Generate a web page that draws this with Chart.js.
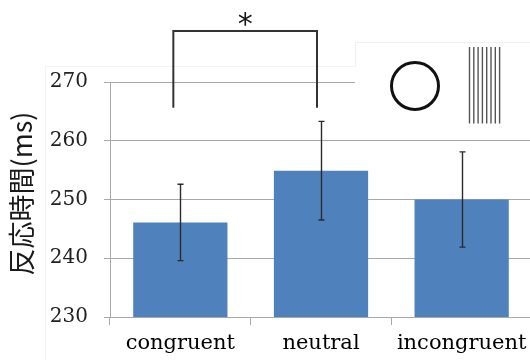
<!DOCTYPE html>
<html>
<head>
<meta charset="utf-8">
<script src="https://cdn.jsdelivr.net/npm/chart.js@4"></script>
<style>
  html, body { margin: 0; padding: 0; background: #fff; overflow: hidden; }
  #wrap { width: 534px; height: 360px; }
</style>
</head>
<body>
<div id="wrap"><canvas id="rt" width="534" height="360"></canvas></div>
<script>
// Reaction time by condition (ms)
const conditions = ['congruent', 'neutral', 'incongruent'];
const meanRT     = [246.1, 254.9, 250.0];
const errLow     = [239.6, 246.5, 241.9];
const errHigh    = [252.6, 263.3, 258.1];
const yTicks     = [230, 240, 250, 260, 270];

// significance bracket between the first two conditions
const sigPair    = ['congruent', 'neutral'];
const sigLabel   = '*';
const bracketLow = 265.6;
const bracketTop = 278.7;

const yTitle = '反応時間(ms)';

// error bars drawn from errLow / errHigh through the scales
const errorBars = {
  id: 'errorBars',
  afterDatasetsDraw(chart) {
    const { ctx, scales: { x, y } } = chart;
    ctx.save();
    ctx.strokeStyle = '#2b2b2b';
    ctx.lineWidth = 1.4;
    conditions.forEach((c, i) => {
      const px = Math.round(x.getPixelForValue(i)) + 0.5;
      const top = y.getPixelForValue(errHigh[i]);
      const bot = y.getPixelForValue(errLow[i]);
      ctx.beginPath();
      ctx.moveTo(px, top); ctx.lineTo(px, bot);
      ctx.moveTo(px - 3, top); ctx.lineTo(px + 3, top);
      ctx.moveTo(px - 3, bot); ctx.lineTo(px + 3, bot);
      ctx.stroke();
    });
    ctx.restore();
  }
};

// bracket, asterisk, stimulus icons, y title
const extras = {
  id: 'extras',
  beforeDraw(chart) {
    const { ctx } = chart;
    ctx.save();
    ctx.fillStyle = '#fff';
    ctx.fillRect(0, 0, chart.width, chart.height);
    // faint frame of the pasted figure
    ctx.strokeStyle = '#f3f3f3';
    ctx.lineWidth = 1;
    ctx.beginPath();
    ctx.moveTo(45.5, 360); ctx.lineTo(45.5, 66.5); ctx.lineTo(355, 66.5);
    ctx.stroke();
    ctx.restore();
  },
  afterDraw(chart) {
    const { ctx, scales: { x, y } } = chart;
    ctx.save();

    // white box behind the icons (covers top gridline)
    ctx.fillStyle = '#fff';
    ctx.fillRect(355, 42, 180, 70);
    ctx.strokeStyle = '#f0f0f0';
    ctx.lineWidth = 1;
    ctx.beginPath();
    ctx.moveTo(355.5, 67); ctx.lineTo(355.5, 42.5); ctx.lineTo(534, 42.5);
    ctx.stroke();

    // circle icon
    ctx.strokeStyle = '#111';
    ctx.lineWidth = 3;
    ctx.beginPath();
    ctx.arc(415, 86, 23.5, 0, Math.PI * 2);
    ctx.stroke();

    // grating icon
    ctx.strokeStyle = '#555';
    ctx.lineWidth = 1.4;
    ctx.beginPath();
    for (let k = 0; k < 8; k++) {
      const gx = 469.5 + k * 4.3;
      ctx.moveTo(gx, 47); ctx.lineTo(gx, 123.5);
    }
    ctx.stroke();

    // significance bracket
    const x1 = x.getPixelForValue(conditions.indexOf(sigPair[0])) - 7;
    const x2 = x.getPixelForValue(conditions.indexOf(sigPair[1])) - 4;
    const yb = y.getPixelForValue(bracketLow);
    const yt = y.getPixelForValue(bracketTop);
    ctx.strokeStyle = '#333';
    ctx.lineWidth = 2;
    ctx.beginPath();
    ctx.moveTo(x1, yb); ctx.lineTo(x1, yt); ctx.lineTo(x2, yt); ctx.lineTo(x2, yb);
    ctx.stroke();

    ctx.fillStyle = '#1a1a1a';
    ctx.font = '30px "DejaVu Sans"';
    ctx.textAlign = 'center';
    ctx.textBaseline = 'alphabetic';
    ctx.fillText(sigLabel, (x1 + x2) / 2, yt + 3);

    // y axis title
    ctx.translate(22, 193.5);
    ctx.rotate(-Math.PI / 2);
    ctx.font = '27px "Noto Sans CJK JP"';
    ctx.textBaseline = 'middle';
    ctx.fillText(yTitle, 0, 0);
    ctx.restore();
  }
};

new Chart(document.getElementById('rt'), {
  type: 'bar',
  data: {
    labels: conditions,
    datasets: [{
      data: meanRT,
      backgroundColor: '#4f81bd',
      borderWidth: 0,
      categoryPercentage: 1,
      barPercentage: 0.67
    }]
  },
  options: {
    responsive: false,
    animation: false,
    layout: { padding: { top: 82, right: 2, left: 0, bottom: 0 } },
    plugins: { legend: { display: false }, tooltip: { enabled: false } },
    scales: {
      x: {
        grid: { drawOnChartArea: false, tickLength: 8, color: '#a8a8a8' },
        border: { color: '#a8a8a8' },
        ticks: { color: '#000', padding: 6, font: { family: 'DejaVu Serif', size: 21 } },
        afterFit(s) { s.height = 43; }
      },
      y: {
        min: yTicks[0],
        max: yTicks[yTicks.length - 1],
        afterBuildTicks(s) { s.ticks = yTicks.map(v => ({ value: v })); },
        grid: { color: '#a8a8a8', tickLength: 6 },
        border: { color: '#a8a8a8' },
        ticks: { color: '#222', padding: 16, font: { family: 'DejaVu Serif', size: 20 } },
        afterFit(s) { s.width = 110; }
      }
    }
  },
  plugins: [errorBars, extras]
});
</script>
</body>
</html>
